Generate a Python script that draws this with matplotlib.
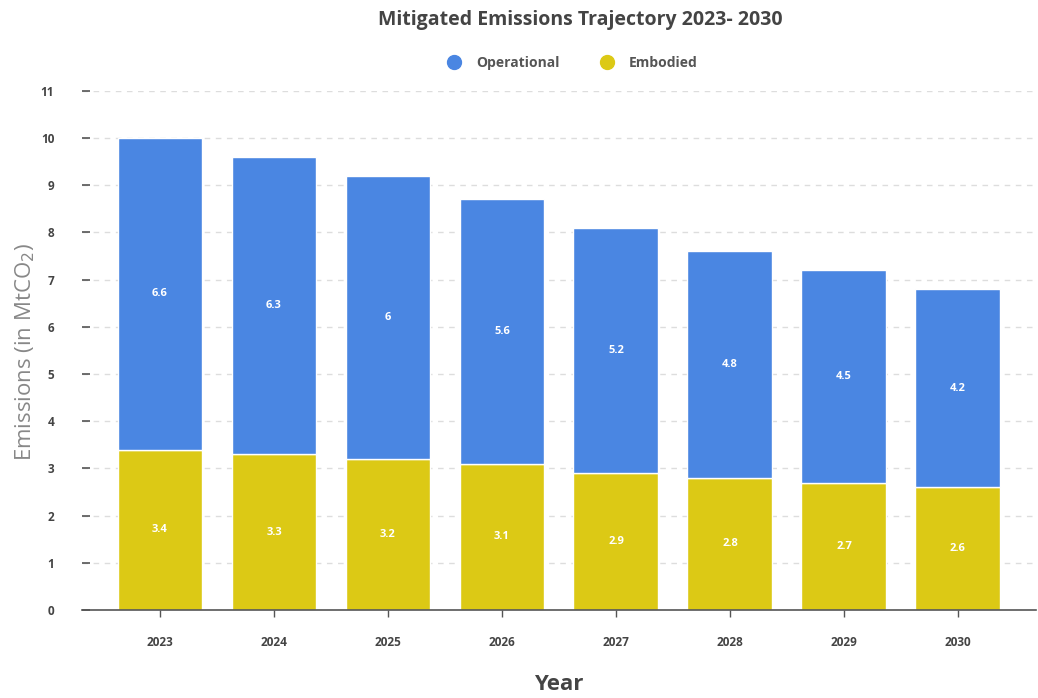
import matplotlib
matplotlib.use("Agg")
import matplotlib.pyplot as plt
from matplotlib.lines import Line2D
import numpy as np

years = ["2023", "2024", "2025", "2026", "2027", "2028", "2029", "2030"]
embodied = [3.4, 3.3, 3.2, 3.1, 2.9, 2.8, 2.7, 2.6]
operational = [6.6, 6.3, 6.0, 5.6, 5.2, 4.8, 4.5, 4.2]

BLUE = "#4A86E2"
YELLOW = "#DCC915"

plt.rcParams["font.family"] = ["Open Sans", "DejaVu Sans"]

fig = plt.figure(figsize=(10.38, 6.98), dpi=100)
ax = fig.add_axes([0.079, 0.126, 0.919, 0.744])

x = np.arange(len(years))
w = 0.745
ax.bar(x, embodied, width=w, color=YELLOW, edgecolor="white", linewidth=1, zorder=3, label="Embodied")
ax.bar(x, operational, width=w, bottom=embodied, color=BLUE, edgecolor="white", linewidth=1,
       zorder=3, label="Operational")

def fmt(v):
    return f"{v:g}"

for xi, e, o in zip(x, embodied, operational):
    ax.text(xi, e / 2, fmt(e), ha="center", va="center", color="white", fontsize=8, fontweight="bold", zorder=4)
    ax.text(xi, e + o / 2, fmt(o), ha="center", va="center", color="white", fontsize=8, fontweight="bold", zorder=4)

ax.set_xlim(-0.684, 7.684)
ax.set_ylim(0, 11)
ax.set_yticks(range(0, 12))
ax.set_xticks(x)
ax.set_xticklabels(years)
ax.yaxis.grid(True, color="#dddddd", linestyle=(0, (4, 4)), linewidth=1, zorder=0)
ax.xaxis.grid(False)
for s in ["top", "right", "left"]:
    ax.spines[s].set_visible(False)
ax.spines["bottom"].set_color("#555555")
ax.spines["bottom"].set_linewidth(1.2)
ax.spines["bottom"].set_zorder(5)

ax.tick_params(axis="y", direction="in", length=6, width=1.2, color="#555555", pad=20,
               labelsize=8.5, labelcolor="#444444")
ax.tick_params(axis="x", length=5, width=1, color="#555555", pad=14, labelsize=8.5, labelcolor="#444444")
for lab in ax.get_xticklabels() + ax.get_yticklabels():
    lab.set_fontweight("bold")

fig.text(25 / 1038, 0.496, "Emissions (in MtCO$_2$)", rotation=90, ha="center", va="center",
         fontsize=16, color="#888888")
ax.set_xlabel("Year", fontsize=16, fontweight="bold", color="#444444", labelpad=18)

fig.text(0.559, 0.972, "Mitigated Emissions Trajectory 2023- 2030", ha="center", va="center",
         fontsize=14, fontweight="bold", color="#444444")

handles = [Line2D([], [], marker="o", linestyle="", markersize=10, color=BLUE, label="Operational"),
           Line2D([], [], marker="o", linestyle="", markersize=10, color=YELLOW, label="Embodied")]
leg = fig.legend(handles=handles, loc="center", bbox_to_anchor=(0.548, 0.91), ncol=2, frameon=False,
                 fontsize=10, handletextpad=0.6, columnspacing=2.4)
for t in leg.get_texts():
    t.set_color("#555555")
    t.set_fontweight("bold")

fig.savefig("out.png", dpi=100, facecolor="white")
